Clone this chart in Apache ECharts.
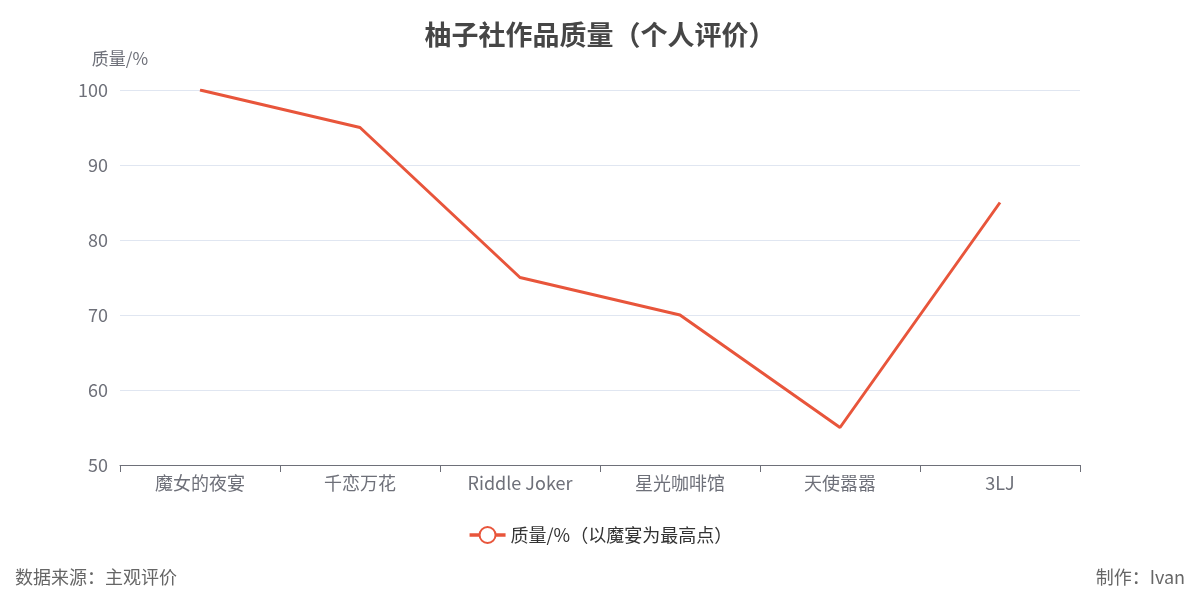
<!DOCTYPE html>
<html><head><meta charset="utf-8">
<script src="https://cdn.jsdelivr.net/npm/echarts@6/dist/echarts.min.js"></script>
<style>html,body{margin:0;padding:0;background:#fff}#c{width:1200px;height:600px}</style>
</head><body><div id="c"></div>
<script>
const categories = ['魔女的夜宴', '千恋万花', 'Riddle Joker', '星光咖啡馆', '天使嚣嚣', '3LJ'];
const quality = [100, 95, 75, 70, 55, 85];
const seriesName = '质量/%（以魔宴为最高点）';
const chart = echarts.init(document.getElementById('c'));
const ff = '"Microsoft YaHei","Noto Sans CJK SC",sans-serif';
chart.setOption({
  textStyle: {fontFamily: ff},
  title: {text: '柚子社作品质量（个人评价）', left: 'center', top: 16,
    textStyle: {fontSize: 27, fontWeight: 'bold', color: '#464646', fontFamily: ff}},
  legend: {bottom: 51, itemWidth: 36, itemHeight: 20, itemGap: 10,
    lineStyle: {width: 3.5}, itemStyle: {borderWidth: 3},
    textStyle: {fontSize: 18, color: '#333'}},
  grid: {left: 120, right: 120, top: 90, bottom: 135},
  xAxis: {type: 'category', data: categories,
    axisLine: {lineStyle: {color: '#6e7079'}},
    axisTick: {show: true, lineStyle: {color: '#6e7079'}, length: 7},
    axisLabel: {fontSize: 18, color: '#6e7079', margin: 9}},
  yAxis: {type: 'value', min: 50, max: 100, interval: 10, name: '质量/%',
    nameTextStyle: {fontSize: 17, color: '#6e7079', padding: [0, 0, 8, 0]},
    axisLabel: {fontSize: 18, color: '#6e7079', margin: 12},
    splitLine: {lineStyle: {color: '#e0e6f1'}}},
  series: [{name: seriesName, type: 'line', data: quality, showSymbol: false,
    symbol: 'emptyCircle', symbolSize: 8,
    itemStyle: {color: '#e8553b'}, lineStyle: {width: 3, color: '#e8553b'}}],
  graphic: [
    {type: 'text', left: 15, bottom: 14, style: {text: '数据来源：主观评价', fontSize: 18, fill: '#666', fontFamily: ff}},
    {type: 'text', right: 15, bottom: 14, style: {text: '制作：Ivan', fontSize: 18, fill: '#666', fontFamily: ff}}
  ]
});
</script></body></html>
